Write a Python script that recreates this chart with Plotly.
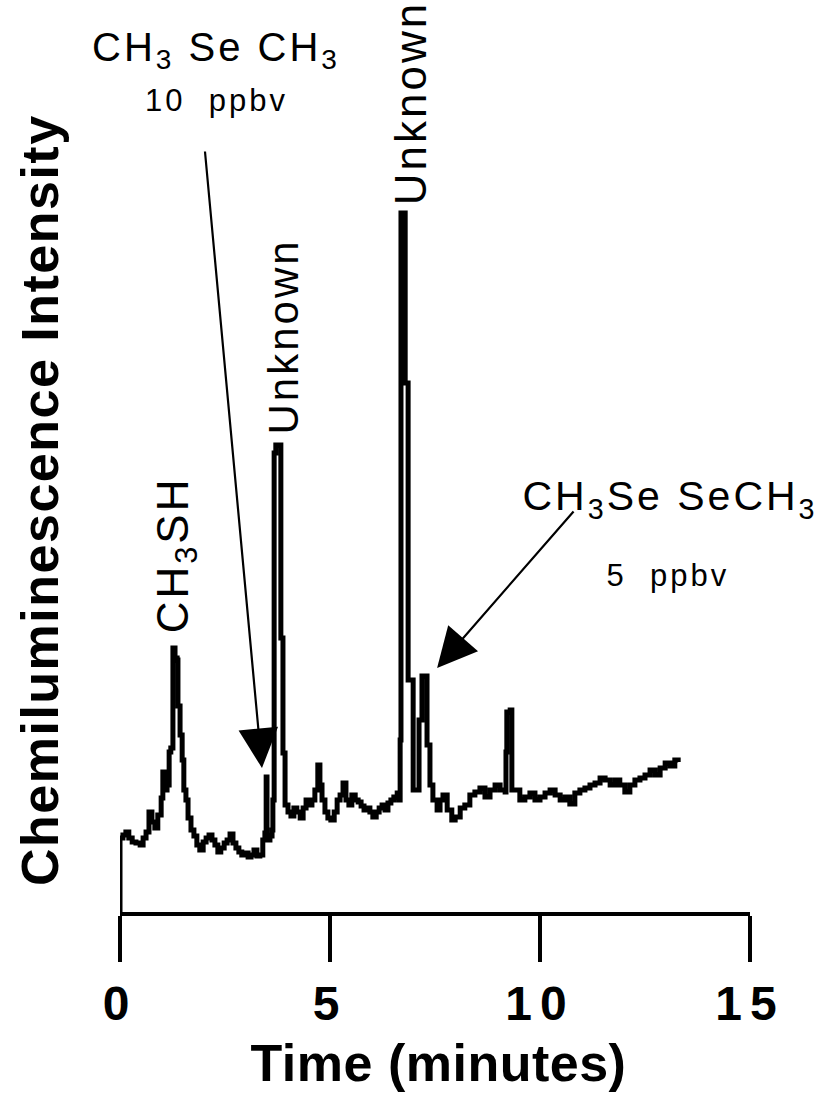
import plotly.graph_objects as go

# Chromatogram trace (time in minutes, intensity in arbitrary units)
time_min = [0.00, 0.00, 0.07, 0.14, 0.21, 0.29, 0.38, 0.48, 0.55, 0.62, 0.69, 0.76, 0.83, 0.90, 0.98,
            1.02, 1.07, 1.12, 1.17, 1.21, 1.26, 1.31, 1.36, 1.38, 1.43, 1.48, 1.52, 1.57, 1.62, 1.69,
            1.76, 1.83, 1.90, 1.98, 2.05, 2.12, 2.19, 2.26, 2.33, 2.40, 2.48, 2.55, 2.62, 2.69, 2.76,
            2.83, 2.90, 2.98, 3.05, 3.12, 3.19, 3.26, 3.33, 3.40, 3.45, 3.48, 3.50, 3.57, 3.62, 3.64,
            3.67, 3.71, 3.79, 3.83, 3.88, 3.93, 4.00, 4.07, 4.14, 4.21, 4.29, 4.36, 4.43, 4.50, 4.57,
            4.64, 4.71, 4.76, 4.81, 4.88, 4.95, 5.02, 5.10, 5.17, 5.24, 5.31, 5.38, 5.45, 5.52, 5.60,
            5.67, 5.74, 5.81, 5.88, 5.95, 6.02, 6.10, 6.17, 6.24, 6.31, 6.38, 6.45, 6.52, 6.60, 6.64,
            6.67, 6.69, 6.76, 6.79, 6.86, 6.93, 6.98, 7.10, 7.12, 7.19, 7.29, 7.31, 7.38, 7.45, 7.55,
            7.62, 7.69, 7.79, 7.90, 7.98, 8.10, 8.21, 8.33, 8.45, 8.57, 8.69, 8.81, 8.93, 9.05, 9.17,
            9.19, 9.21, 9.29, 9.33, 9.40, 9.52, 9.64, 9.76, 9.88, 10.00, 10.12, 10.24, 10.36, 10.48,
            10.60, 10.71, 10.83, 10.95, 11.07, 11.19, 11.31, 11.43, 11.55, 11.67, 11.79, 11.90, 12.02,
            12.14, 12.26, 12.38, 12.50, 12.62, 12.74, 12.86, 12.98, 13.10, 13.21, 13.29]
intensity = [0, 74, 77, 80, 74, 70, 69, 67, 74, 80, 100, 90, 84, 97, 114,
             140, 122, 127, 160, 164, 264, 254, 252, 206, 177, 152, 122, 112, 94, 82,
             76, 67, 62, 70, 74, 77, 72, 67, 60, 64, 69, 72, 78, 69, 64,
             60, 57, 59, 55, 57, 62, 56, 57, 72, 79, 135, 72, 76, 82, 112,
             459, 467, 467, 274, 159, 107, 100, 96, 104, 100, 94, 104, 112, 107, 112,
             122, 147, 127, 112, 100, 94, 92, 100, 112, 117, 129, 112, 107, 117, 112,
             110, 106, 102, 104, 100, 95, 100, 104, 107, 102, 109, 112, 115, 119, 112,
             172, 699, 699, 529, 232, 232, 122, 122, 192, 236, 236, 167, 127, 112, 102,
             112, 117, 102, 92, 95, 104, 107, 117, 120, 124, 115, 122, 127, 122, 120,
             160, 200, 202, 122, 122, 112, 115, 119, 112, 115, 119, 122, 117, 112,
             115, 108, 119, 122, 124, 127, 129, 134, 132, 127, 132, 127, 120,
             127, 132, 134, 137, 142, 137, 144, 149, 146, 152, 150]

x_ticks = [0, 5, 10, 15]
x_ticktext = ["0", "5", "10", "15"]

FONT = "Liberation Sans, Arial, Helvetica, sans-serif"

fig = go.Figure()
fig.add_trace(go.Scatter(x=time_min, y=intensity, mode="lines",
                         line=dict(color="black", width=5, shape="hv"),
                         showlegend=False, hoverinfo="skip"))

annotations = [
    dict(text="CH<sub>3</sub>SH", x=1.33, y=357, textangle=-90, size=44),
    dict(text="Unknown", x=3.88, y=576, textangle=-90, size=42),
    dict(text="Unknown", x=6.90, y=809, textangle=-90, size=44),
    dict(text="CH<sub>3</sub> Se CH<sub>3</sub>", x=2.29, y=862, textangle=0, size=40),
    dict(text="10  ppbv", x=2.29, y=812, textangle=0, size=31),
    dict(text="CH<sub>3</sub>Se SeCH<sub>3</sub>", x=13.10, y=413, textangle=0, size=41),
    dict(text="5  ppbv", x=13.05, y=337, textangle=0, size=31),
]
for a in annotations:
    fig.add_annotation(x=a["x"], y=a["y"], xref="x", yref="y", text=a["text"],
                       textangle=a["textangle"], showarrow=False,
                       xanchor="center", yanchor="middle",
                       font=dict(family=FONT, size=a["size"], color="black"))

arrows = [
    dict(x=3.38, y=144, ax=2.02, ay=762),
    dict(x=7.55, y=244, ax=10.83, ay=402),
]
for ar in arrows:
    fig.add_annotation(x=ar["x"], y=ar["y"], ax=ar["ax"], ay=ar["ay"],
                       xref="x", yref="y", axref="x", ayref="y", text="",
                       showarrow=True, arrowhead=2, arrowsize=3.6, arrowwidth=2.2,
                       arrowcolor="black")

# axis titles
fig.add_annotation(text="Chemiluminescence Intensity", xref="paper", yref="paper",
                   x=-0.127, y=0.452, textangle=-90, showarrow=False,
                   xanchor="center", yanchor="middle",
                   font=dict(family=FONT, size=52, color="black", weight="bold"))
fig.add_annotation(text="Time (minutes)", xref="paper", yref="paper",
                   x=0.505, y=-0.1656, showarrow=False,
                   xanchor="center", yanchor="middle",
                   font=dict(family=FONT, size=52, color="black", weight="bold"))

fig.update_layout(
    width=830, height=1105,
    margin=dict(l=120, r=80, t=0, b=193, autoexpand=False),
    paper_bgcolor="white", plot_bgcolor="white",
    xaxis=dict(range=[0, 15], tickvals=x_ticks, ticktext=x_ticktext,
               showline=True, linewidth=4, linecolor="black",
               ticks="outside", ticklen=46, tickwidth=4, tickcolor="black",
               showgrid=False, zeroline=False,
               tickfont=dict(family=FONT, size=48, color="black", weight="bold")),
    yaxis=dict(range=[0, 912], visible=False, showgrid=False, zeroline=False),
)

# widen letter spacing like the original typesetting
post = """
var gd = document.getElementsByClassName('plotly-graph-div')[0];
gd.querySelectorAll('.annotation-text').forEach(function(t){
  var s = t.textContent;
  var ls = '3px';
  if (s.indexOf('Chemiluminescence') >= 0) ls = '1.5px';
  if (s.indexOf('Time') >= 0) ls = '0.5px';
  t.style.letterSpacing = ls;
});
gd.querySelectorAll('.xtick text').forEach(function(t){
  t.style.letterSpacing = '8px';
});
"""

fig.write_html("out.html", post_script=post)
